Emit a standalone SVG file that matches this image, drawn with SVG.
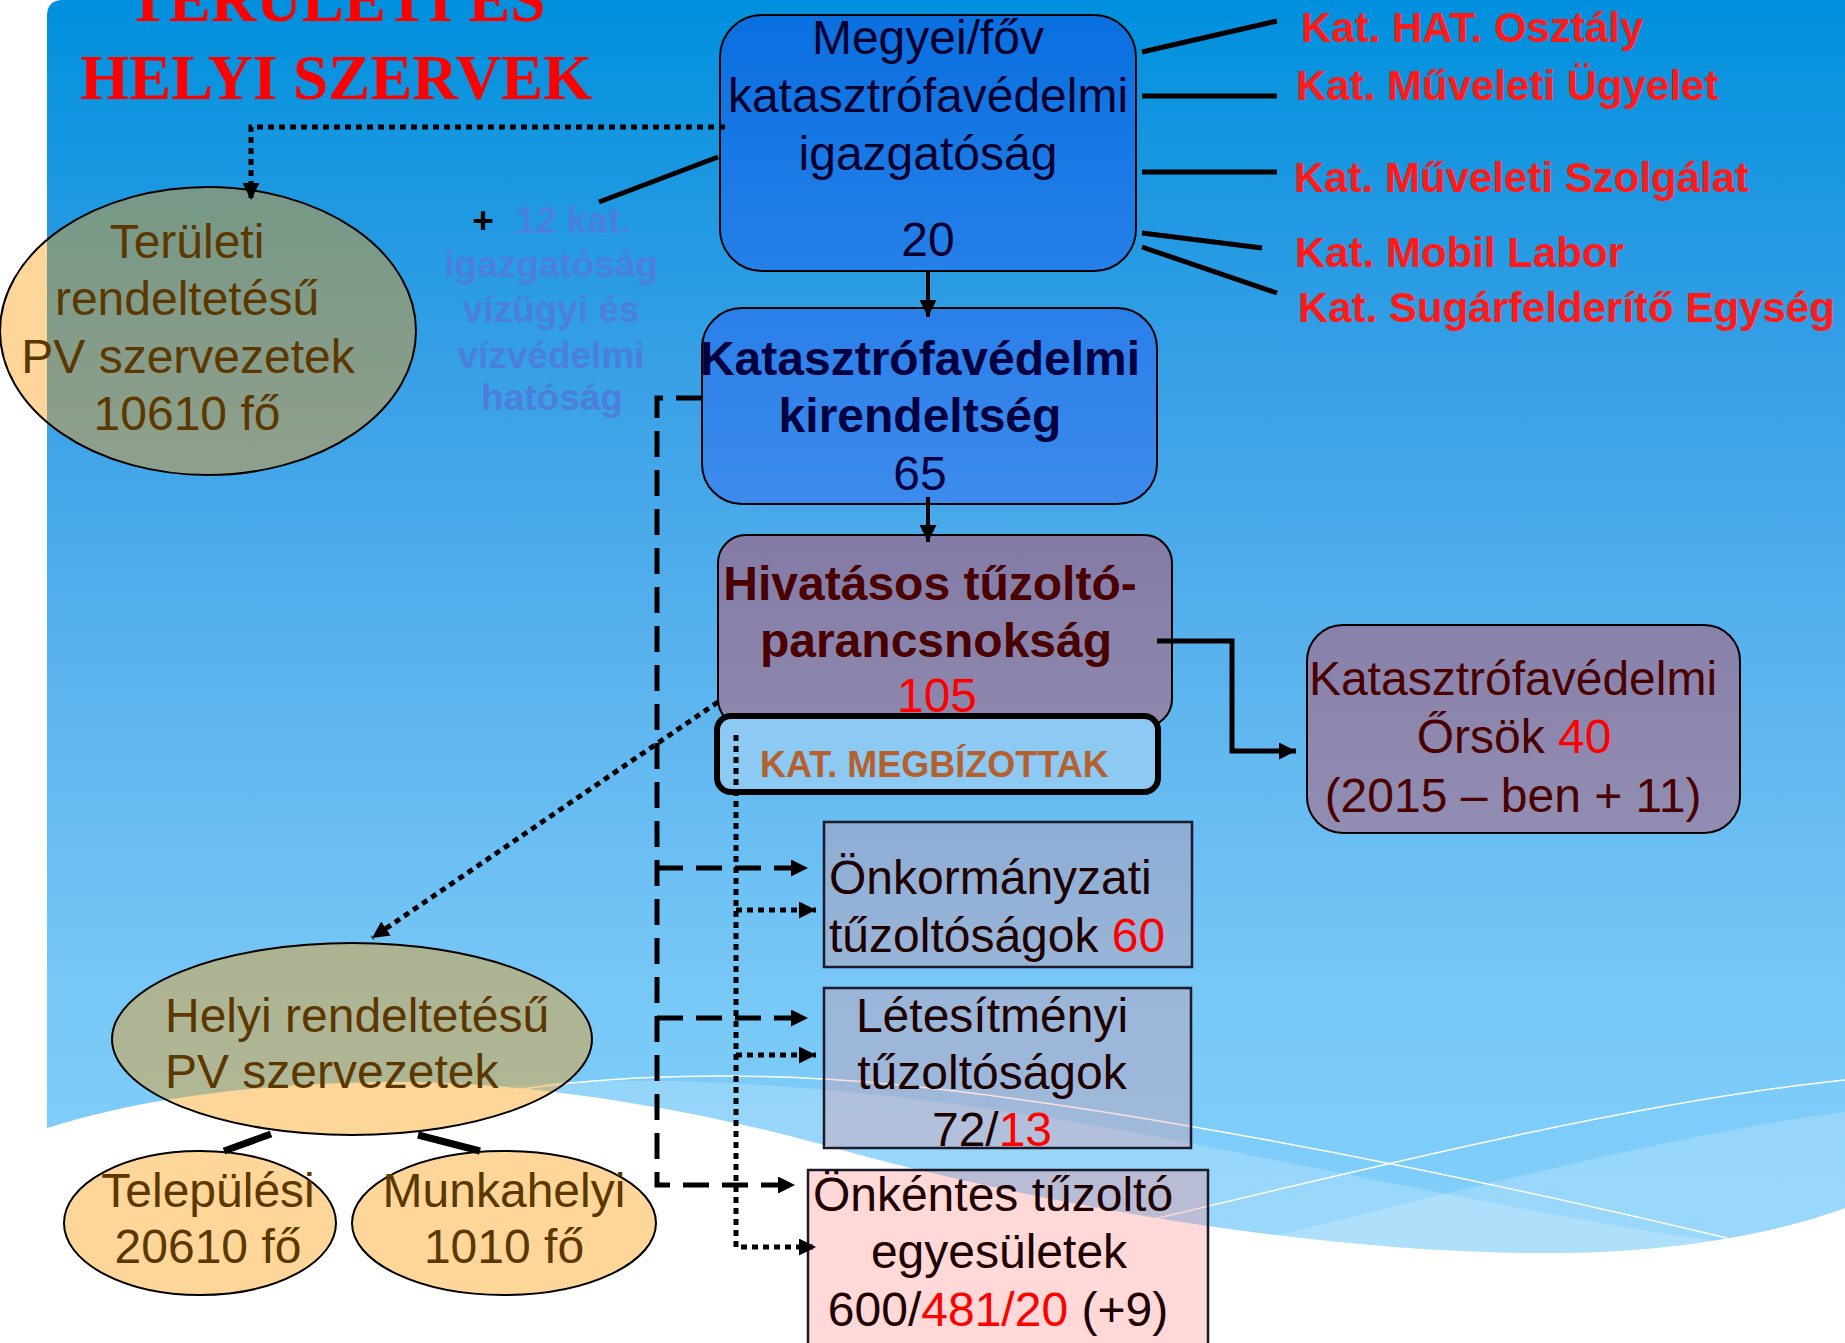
<svg xmlns="http://www.w3.org/2000/svg" width="1845" height="1343" viewBox="0 0 1845 1343">
<defs>
<linearGradient id="bg" gradientUnits="userSpaceOnUse" x1="0" y1="0" x2="0" y2="1250">
<stop offset="0" stop-color="#0090dd"/><stop offset="0.3" stop-color="#38a0e6"/><stop offset="0.55" stop-color="#5cb4ee"/><stop offset="0.8" stop-color="#78c8f7"/><stop offset="1" stop-color="#82d0fb"/>
</linearGradient>
<linearGradient id="gMeg" x1="0" y1="0" x2="0" y2="1"><stop offset="0" stop-color="#0a6fe0"/><stop offset="1" stop-color="#2580e8"/></linearGradient>
<linearGradient id="gKir" x1="0" y1="0" x2="0" y2="1"><stop offset="0" stop-color="#2a7fe9"/><stop offset="1" stop-color="#3d8bec"/></linearGradient>
<linearGradient id="gHiv" x1="0" y1="0" x2="0" y2="1"><stop offset="0" stop-color="#837ba6"/><stop offset="1" stop-color="#8e88ad"/></linearGradient>
<linearGradient id="gOrs" x1="0" y1="0" x2="0" y2="1"><stop offset="0" stop-color="#8881aa"/><stop offset="1" stop-color="#928db2"/></linearGradient>
<clipPath id="blueClip"><path d="M47,16 Q47,0 63,0 H1845 V1208 C1780,1232 1680,1252 1558,1253 C1300,1255 1000,1195 824,1145 C680,1105 520,1082 400,1082 C280,1082 150,1095 47,1128 Z"/></clipPath>
<marker id="ah" viewBox="0 0 10 10" refX="10" refY="5" markerUnits="userSpaceOnUse" markerWidth="17" markerHeight="17" orient="auto"><path d="M0,0 L10,5 L0,10 Z" fill="#000"/></marker>
</defs>
<style>
.t{font-family:"Liberation Sans",Arial,sans-serif;font-size:48px}
.b{font-weight:bold}
.m{text-anchor:middle}
.red{fill:#ff0000}
.lbl{font-family:"Liberation Sans",Arial,sans-serif;font-size:42px;font-weight:bold;fill:#ff1a1a}
.ell{fill:#ff9900;fill-opacity:0.4;stroke:#000;stroke-width:2}
.ebr{fill:#5c3800}
.sq{fill:#ff8383;fill-opacity:0.26;stroke:#1a1a2a;stroke-width:2.5}
.sq2{fill:#ff8383;fill-opacity:0.315;stroke:#1a1a2a;stroke-width:2.5}
.solid{fill:none;stroke:#000;stroke-width:5}
.dash{fill:none;stroke:#000;stroke-width:5;stroke-dasharray:26 13}
.dot{fill:none;stroke:#000;stroke-width:5;stroke-dasharray:6 5}
</style>
<rect width="1845" height="1343" fill="#ffffff"/>
<g id="background">
<path d="M47,16 Q47,0 63,0 H1845 V1208 C1780,1232 1680,1252 1558,1253 C1300,1255 1000,1195 824,1145 C680,1105 520,1082 400,1082 C280,1082 150,1095 47,1128 Z" fill="url(#bg)"/>
<g clip-path="url(#blueClip)">
<path d="M494,1088 C650,1070 900,1085 1200,1145 C1450,1195 1650,1235 1729,1242 L1729,1343 L494,1343 Z" fill="#ffffff" fill-opacity="0.2"/>
<path d="M1250,1242 C1500,1180 1700,1130 1845,1112 L1845,1343 L1250,1343 Z" fill="#ffffff" fill-opacity="0.2"/>
</g>
<path d="M506,1092 C600,1075 750,1070 900,1085 C1100,1105 1400,1160 1727,1238" fill="none" stroke="#ffffff" stroke-width="1.5"/>
<path d="M1150,1220 C1400,1160 1650,1100 1845,1080" fill="none" stroke="#ffffff" stroke-width="1.5"/>
</g>
<g id="title" font-family="'Liberation Serif','Times New Roman',serif" font-weight="bold" font-size="63" fill="#ff0000" text-anchor="middle">
<text x="336" y="21">TERÜLETI ÉS</text>
<text x="336" y="99">HELYI SZERVEK</text>
</g>
<g id="node-megyei">
<rect x="720" y="15" width="416" height="256" rx="42" fill="url(#gMeg)" stroke="#000" stroke-width="2"/>
<g class="t m" fill="#00002e">
<text x="928" y="54">Megyei/főv</text>
<text x="928" y="112">katasztrófavédelmi</text>
<text x="928" y="170">igazgatóság</text>
<text x="928" y="256">20</text>
</g>
</g>
<g id="node-kirendeltseg">
<rect x="702" y="308" width="455" height="196" rx="40" fill="url(#gKir)" stroke="#000" stroke-width="2"/>
<g class="t m" fill="#000040">
<text class="b" x="920" y="375">Katasztrófavédelmi</text>
<text class="b" x="920" y="432">kirendeltség</text>
<text x="920" y="490">65</text>
</g>
</g>
<g id="node-hivatasos">
<rect x="718" y="535" width="454" height="192" rx="28" fill="url(#gHiv)" stroke="#000" stroke-width="2"/>
<g class="t b m" fill="#4a0000">
<text x="930" y="600">Hivatásos tűzoltó-</text>
<text x="936" y="657">parancsnokság</text>
</g>
<text class="t m red" x="937" y="712">105</text>
</g>
<g id="node-megbizottak">
<rect x="717" y="716" width="441" height="76" rx="14" fill="#8ccaf4" stroke="#000" stroke-width="6"/>
<text x="760" y="777" font-family="'Liberation Sans',Arial,sans-serif" font-size="36" font-weight="bold" fill="#b5602f">KAT. MEGBÍZOTTAK</text>
</g>
<g id="node-orsok">
<rect x="1307" y="625" width="433" height="208" rx="36" fill="url(#gOrs)" stroke="#000" stroke-width="2"/>
<g class="t m" fill="#4a0000">
<text x="1513" y="695">Katasztrófavédelmi</text>
<text x="1514" y="753">Őrsök <tspan class="red">40</tspan></text>
<text x="1513" y="812">(2015 – ben + 11)</text>
</g>
</g>
<g id="node-onkormanyzati">
<rect class="sq" x="824" y="822" width="368" height="145"/>
<g class="t" fill="#1e0000">
<text x="829" y="894">Önkormányzati</text>
<text x="829" y="952">tűzoltóságok <tspan class="red">60</tspan></text>
</g>
</g>
<g id="node-letesitmenyi">
<rect class="sq" x="824" y="988" width="367" height="160"/>
<g class="t m" fill="#1e0000">
<text x="992" y="1032">Létesítményi</text>
<text x="992" y="1089">tűzoltóságok</text>
<text x="992" y="1146">72/<tspan class="red">13</tspan></text>
</g>
</g>
<g id="node-onkentes">
<rect class="sq2" x="808" y="1170" width="400" height="190"/>
<g class="t m" fill="#1e0000">
<text x="993" y="1211">Önkéntes tűzoltó</text>
<text x="999" y="1268">egyesületek</text>
<text x="998" y="1326">600/<tspan class="red">481/20</tspan> (+9)</text>
</g>
</g>
<g id="node-teruleti">
<ellipse class="ell" cx="208" cy="331" rx="208" ry="144"/>
<g class="t m ebr">
<text x="187" y="258">Területi</text>
<text x="187" y="315">rendeltetésű</text>
<text x="188" y="373">PV szervezetek</text>
<text x="187" y="430">10610 fő</text>
</g>
</g>
<g id="node-vizugyi">
<text x="483" y="233" font-family="'Liberation Sans',Arial,sans-serif" font-size="37" font-weight="bold" fill="#000" text-anchor="middle">+</text>
<g font-family="'Liberation Sans',Arial,sans-serif" font-size="37" font-weight="bold" fill="#4a80dc" text-anchor="middle">
<text x="573" y="233">12 kat.</text>
<text x="551" y="277">igazgatóság</text>
<text x="551" y="322">vízügyi és</text>
<text x="551" y="368">vízvédelmi</text>
<text x="552" y="410">hatóság</text>
</g>
</g>
<g id="node-labels" class="lbl">
<text x="1301" y="42">Kat. HAT. Osztály</text>
<text x="1296" y="100">Kat. Műveleti Ügyelet</text>
<text x="1294" y="192">Kat. Műveleti Szolgálat</text>
<text x="1295" y="267">Kat. Mobil Labor</text>
<text x="1298" y="322">Kat. Sugárfelderítő Egység</text>
</g>
<g id="node-helyi">
<ellipse class="ell" cx="352" cy="1039" rx="240" ry="96"/>
<g class="t ebr">
<text x="165" y="1032">Helyi rendeltetésű</text>
<text x="165" y="1088">PV szervezetek</text>
</g>
</g>
<g id="node-telepulesi">
<ellipse class="ell" cx="200" cy="1223" rx="136" ry="72"/>
<g class="t m ebr">
<text x="208" y="1207">Települési</text>
<text x="208" y="1263">20610 fő</text>
</g>
</g>
<g id="node-munkahelyi">
<ellipse class="ell" cx="504" cy="1223" rx="152" ry="72"/>
<g class="t m ebr">
<text x="504" y="1207">Munkahelyi</text>
<text x="504" y="1263">1010 fő</text>
</g>
</g>
<g id="connectors">
<path class="dot" d="M725,127 H251 V200" marker-end="url(#ah)"/>
<path class="solid" d="M599,202 L718,157"/>
<path class="solid" d="M1142,52 L1277,21"/>
<path class="solid" d="M1142,96 H1277"/>
<path class="solid" d="M1142,172 H1277"/>
<path class="solid" d="M1142,233 L1262,248"/>
<path class="solid" d="M1142,247 L1277,293"/>
<path fill="none" stroke="#000" stroke-width="4" d="M928,271 V317" marker-end="url(#ah)"/>
<path fill="none" stroke="#000" stroke-width="4" d="M928,497 V542" marker-end="url(#ah)"/>
<path fill="none" stroke="#000" stroke-width="5" d="M1157,641 H1232 V751 H1296" marker-end="url(#ah)"/>
<path class="dash" d="M702,398 H657 V1185 H795" marker-end="url(#ah)"/>
<path class="dash" d="M657,868 H808" marker-end="url(#ah)"/>
<path class="dash" d="M657,1018 H808" marker-end="url(#ah)"/>
<path class="dot" d="M736,735 V1247 H816" marker-end="url(#ah)"/>
<path class="dot" d="M736,910 H816" marker-end="url(#ah)"/>
<path class="dot" d="M736,1055 H816" marker-end="url(#ah)"/>
<path class="dot" d="M718,702 L372,938" marker-end="url(#ah)"/>
<path fill="none" stroke="#000" stroke-width="7" d="M271,1134 L224,1151"/>
<path fill="none" stroke="#000" stroke-width="7" d="M418,1135 L480,1151"/>
</g>
</svg>
